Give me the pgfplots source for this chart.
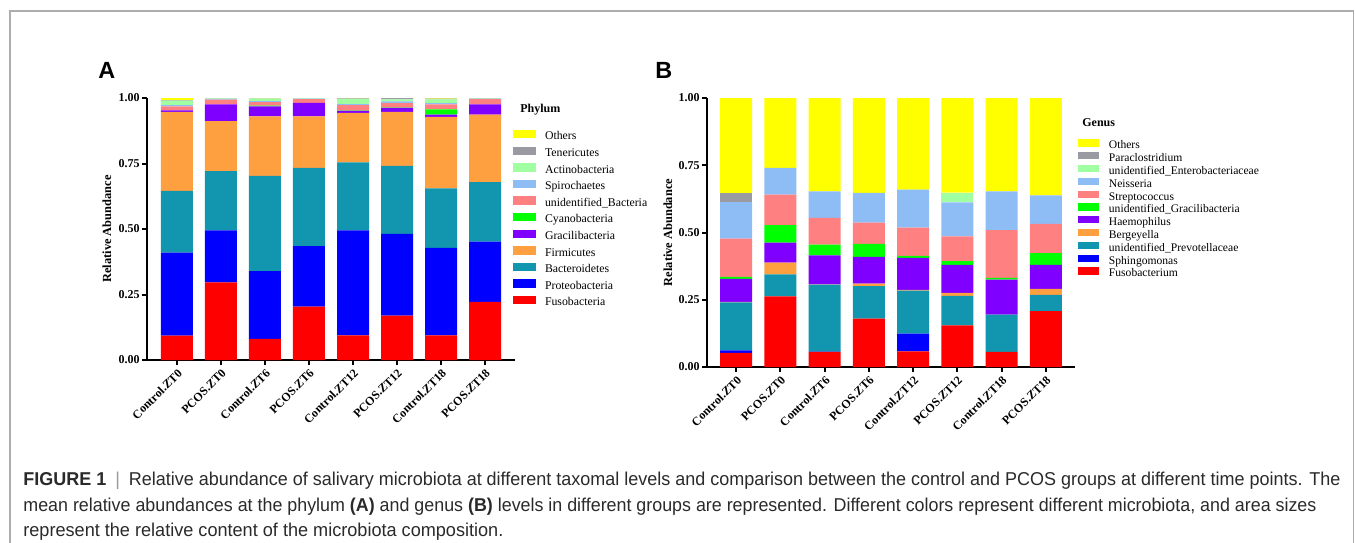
\documentclass[border=0pt]{standalone}
\usepackage{pgfplots}
\pgfplotsset{compat=1.18}
\usepackage{pgfplotstable}
\usepackage{graphicx}
\usepackage{fontspec}
\setmainfont{Liberation Serif}
\newfontfamily\capfont{Liberation Sans}

\definecolor{cOthers}{HTML}{FFFF00}
\definecolor{cGray}{HTML}{9A9AA2}
\definecolor{cLtGreen}{HTML}{A0FFA0}
\definecolor{cLtBlue}{HTML}{8EBCF5}
\definecolor{cPink}{HTML}{FF8080}
\definecolor{cGreen}{HTML}{00FF00}
\definecolor{cPurple}{HTML}{8000FF}
\definecolor{cOrange}{HTML}{FFA040}
\definecolor{cTeal}{HTML}{1296B0}
\definecolor{cBlue}{HTML}{0000FF}
\definecolor{cRed}{HTML}{FF0000}
\definecolor{capgray}{HTML}{2A2A2A}

\pgfplotstableread{
x Fuso Proteo Bact Firm Graci Cyano Unid Spiro Actino Teneri Others
0 0.093 0.317 0.236 0.301 0.006 0.000 0.015 0.005 0.017 0.002 0.008
1 0.296 0.199 0.226 0.191 0.064 0.000 0.018 0.003 0.002 0.001 0.000
2 0.081 0.258 0.364 0.227 0.038 0.003 0.013 0.004 0.010 0.001 0.001
3 0.204 0.231 0.298 0.197 0.051 0.000 0.015 0.002 0.002 0.000 0.000
4 0.094 0.401 0.259 0.189 0.008 0.001 0.021 0.004 0.020 0.002 0.001
5 0.169 0.312 0.260 0.206 0.015 0.001 0.017 0.007 0.008 0.005 0.000
6 0.094 0.334 0.227 0.273 0.009 0.020 0.019 0.004 0.015 0.003 0.002
7 0.222 0.230 0.227 0.258 0.039 0.000 0.021 0.001 0.002 0.000 0.000
}\phylum

\pgfplotstableread{
x Fuso Sphingo Prevo Bergey Haemo Graci Strep Neiss Entero Paracl Others
0 0.053 0.009 0.178 0.002 0.086 0.007 0.142 0.136 0.000 0.034 0.353
1 0.263 0.000 0.081 0.044 0.074 0.065 0.114 0.099 0.000 0.000 0.260
2 0.056 0.001 0.249 0.001 0.108 0.040 0.099 0.099 0.000 0.000 0.347
3 0.180 0.000 0.121 0.009 0.099 0.049 0.079 0.110 0.000 0.000 0.353
4 0.058 0.066 0.160 0.003 0.119 0.007 0.105 0.141 0.000 0.000 0.341
5 0.155 0.000 0.109 0.012 0.104 0.014 0.092 0.126 0.036 0.000 0.352
6 0.056 0.000 0.139 0.000 0.130 0.006 0.178 0.144 0.000 0.000 0.347
7 0.208 0.000 0.060 0.022 0.090 0.043 0.109 0.106 0.000 0.000 0.362
}\genus

\pgfplotsset{
  panel/.style={
    scale only axis, width=184pt,
    ybar stacked, bar width=16pt,
    ymin=0, ymax=1,
    axis x line*=bottom, axis y line*=left,
    axis line style={-, line width=1pt, black},
    every tick/.style={black, line width=1pt},
    tick align=outside, major tick length=2.5pt,
    xtick={0,...,7},
    xticklabels={Control.ZT0,PCOS.ZT0,Control.ZT6,PCOS.ZT6,Control.ZT12,PCOS.ZT12,Control.ZT18,PCOS.ZT18},
    ytick={0,0.25,0.5,0.75,1},
    yticklabel style={/pgf/number format/fixed, /pgf/number format/fixed zerofill, /pgf/number format/precision=2, /pgf/number format/assume math mode=true, inner sep=1pt},
    ticklabel style={font=\bfseries\fontsize{6}{7}\selectfont},
    xticklabel style={rotate=45, anchor=north east, inner sep=1pt},
    ylabel={Relative Abundance},
    ylabel style={font=\bfseries\fontsize{6.2}{7}\selectfont, anchor=center},
    every axis plot/.append style={draw=none},
    legend cell align=left, reverse legend,
  }
}

\begin{document}
\begin{tikzpicture}
\path[use as bounding box] (0,0) rectangle (677.5pt,-271pt);
\draw[color=black!32, line width=0.6pt] (5pt,-272pt) -- (5pt,-5.5pt) -- (676.75pt,-5.5pt) -- (676.75pt,-272pt);

\node[font=\capfont\bfseries\fontsize{11.7}{12}\selectfont, anchor=base west, inner sep=0pt] at (49pt,-39pt) {A};
\node[font=\capfont\bfseries\fontsize{11.7}{12}\selectfont, anchor=base west, inner sep=0pt] at (327.5pt,-39pt) {B};

% Panel A
\begin{axis}[panel, at={(73.5pt,-180pt)}, anchor=south west,
  height=131pt, xmin=-0.68, xmax=7.68,
  ylabel style={at={(axis description cs:-0.1087,0.5)}},
  legend style={draw=none, fill=none, at={(axis description cs:0.9946,0.878)}, anchor=north west,
    inner sep=0pt, outer sep=0pt, row sep=1.9pt, column sep=4.5pt,
    font=\fontsize{5.9}{6.5}\selectfont, nodes={inner sep=0pt, text height=4.2pt, text depth=1.4pt}},
  legend image code/.code={\fill[#1] (0pt,-0.6pt) rectangle (11.5pt,3.6pt);},
]
\addplot[fill=cRed] table[x=x,y=Fuso]{\phylum}; \addlegendentry{Fusobacteria}
\addplot[fill=cBlue] table[x=x,y=Proteo]{\phylum}; \addlegendentry{Proteobacteria}
\addplot[fill=cTeal] table[x=x,y=Bact]{\phylum}; \addlegendentry{Bacteroidetes}
\addplot[fill=cOrange] table[x=x,y=Firm]{\phylum}; \addlegendentry{Firmicutes}
\addplot[fill=cPurple] table[x=x,y=Graci]{\phylum}; \addlegendentry{Gracilibacteria}
\addplot[fill=cGreen] table[x=x,y=Cyano]{\phylum}; \addlegendentry{Cyanobacteria}
\addplot[fill=cPink] table[x=x,y=Unid]{\phylum}; \addlegendentry{unidentified\_Bacteria}
\addplot[fill=cLtBlue] table[x=x,y=Spiro]{\phylum}; \addlegendentry{Spirochaetes}
\addplot[fill=cLtGreen] table[x=x,y=Actino]{\phylum}; \addlegendentry{Actinobacteria}
\addplot[fill=cGray] table[x=x,y=Teneri]{\phylum}; \addlegendentry{Tenericutes}
\addplot[fill=cOthers] table[x=x,y=Others]{\phylum}; \addlegendentry{Others}
\end{axis}
\node[font=\bfseries\fontsize{6}{7}\selectfont, anchor=west, inner sep=0pt] at (260pt,-55pt) {Phylum};

% Panel B
\begin{axis}[panel, at={(353.5pt,-183.5pt)}, anchor=south west,
  height=134.5pt, xmin=-0.66, xmax=7.66,
  ylabel style={at={(axis description cs:-0.106,0.5)}},
  legend style={draw=none, fill=none, at={(axis description cs:1.008,0.846)}, anchor=north west,
    inner sep=0pt, outer sep=0pt, row sep=0.3pt, column sep=5pt,
    font=\fontsize{5.8}{6.4}\selectfont, nodes={inner sep=0pt, text height=4.2pt, text depth=1.4pt}},
  legend image code/.code={\fill[#1] (0pt,-0.3pt) rectangle (10.5pt,3.3pt);},
]
\addplot[fill=cRed] table[x=x,y=Fuso]{\genus}; \addlegendentry{Fusobacterium}
\addplot[fill=cBlue] table[x=x,y=Sphingo]{\genus}; \addlegendentry{Sphingomonas}
\addplot[fill=cTeal] table[x=x,y=Prevo]{\genus}; \addlegendentry{unidentified\_Prevotellaceae}
\addplot[fill=cOrange] table[x=x,y=Bergey]{\genus}; \addlegendentry{Bergeyella}
\addplot[fill=cPurple] table[x=x,y=Haemo]{\genus}; \addlegendentry{Haemophilus}
\addplot[fill=cGreen] table[x=x,y=Graci]{\genus}; \addlegendentry{unidentified\_Gracilibacteria}
\addplot[fill=cPink] table[x=x,y=Strep]{\genus}; \addlegendentry{Streptococcus}
\addplot[fill=cLtBlue] table[x=x,y=Neiss]{\genus}; \addlegendentry{Neisseria}
\addplot[fill=cLtGreen] table[x=x,y=Entero]{\genus}; \addlegendentry{unidentified\_Enterobacteriaceae}
\addplot[fill=cGray] table[x=x,y=Paracl]{\genus}; \addlegendentry{Paraclostridium}
\addplot[fill=cOthers] table[x=x,y=Others]{\genus}; \addlegendentry{Others}
\end{axis}
\node[font=\bfseries\fontsize{6}{7}\selectfont, anchor=west, inner sep=0pt] at (541pt,-61.5pt) {Genus};

% Caption
\begin{scope}[every node/.style={anchor=base west, inner sep=0pt, text=capgray, font=\capfont\fontsize{9.3}{10}\selectfont}]
\node at (11.5pt,-242.5pt) {\resizebox{658.5pt}{\height}{\textbf{FIGURE 1}\hspace{0.5em}\textcolor{black!40}{|}\hspace{0.5em}Relative abundance of salivary microbiota at different taxomal levels and comparison between the control and PCOS groups at different time points. The}};
\node at (11.5pt,-255.5pt) {\resizebox{646.5pt}{\height}{mean relative abundances at the phylum \textbf{(A)} and genus \textbf{(B)} levels in different groups are represented. Different colors represent different microbiota, and area sizes}};
\node at (11.5pt,-268.25pt) {\resizebox{240pt}{\height}{represent the relative content of the microbiota composition.}};
\end{scope}
\end{tikzpicture}
\end{document}
